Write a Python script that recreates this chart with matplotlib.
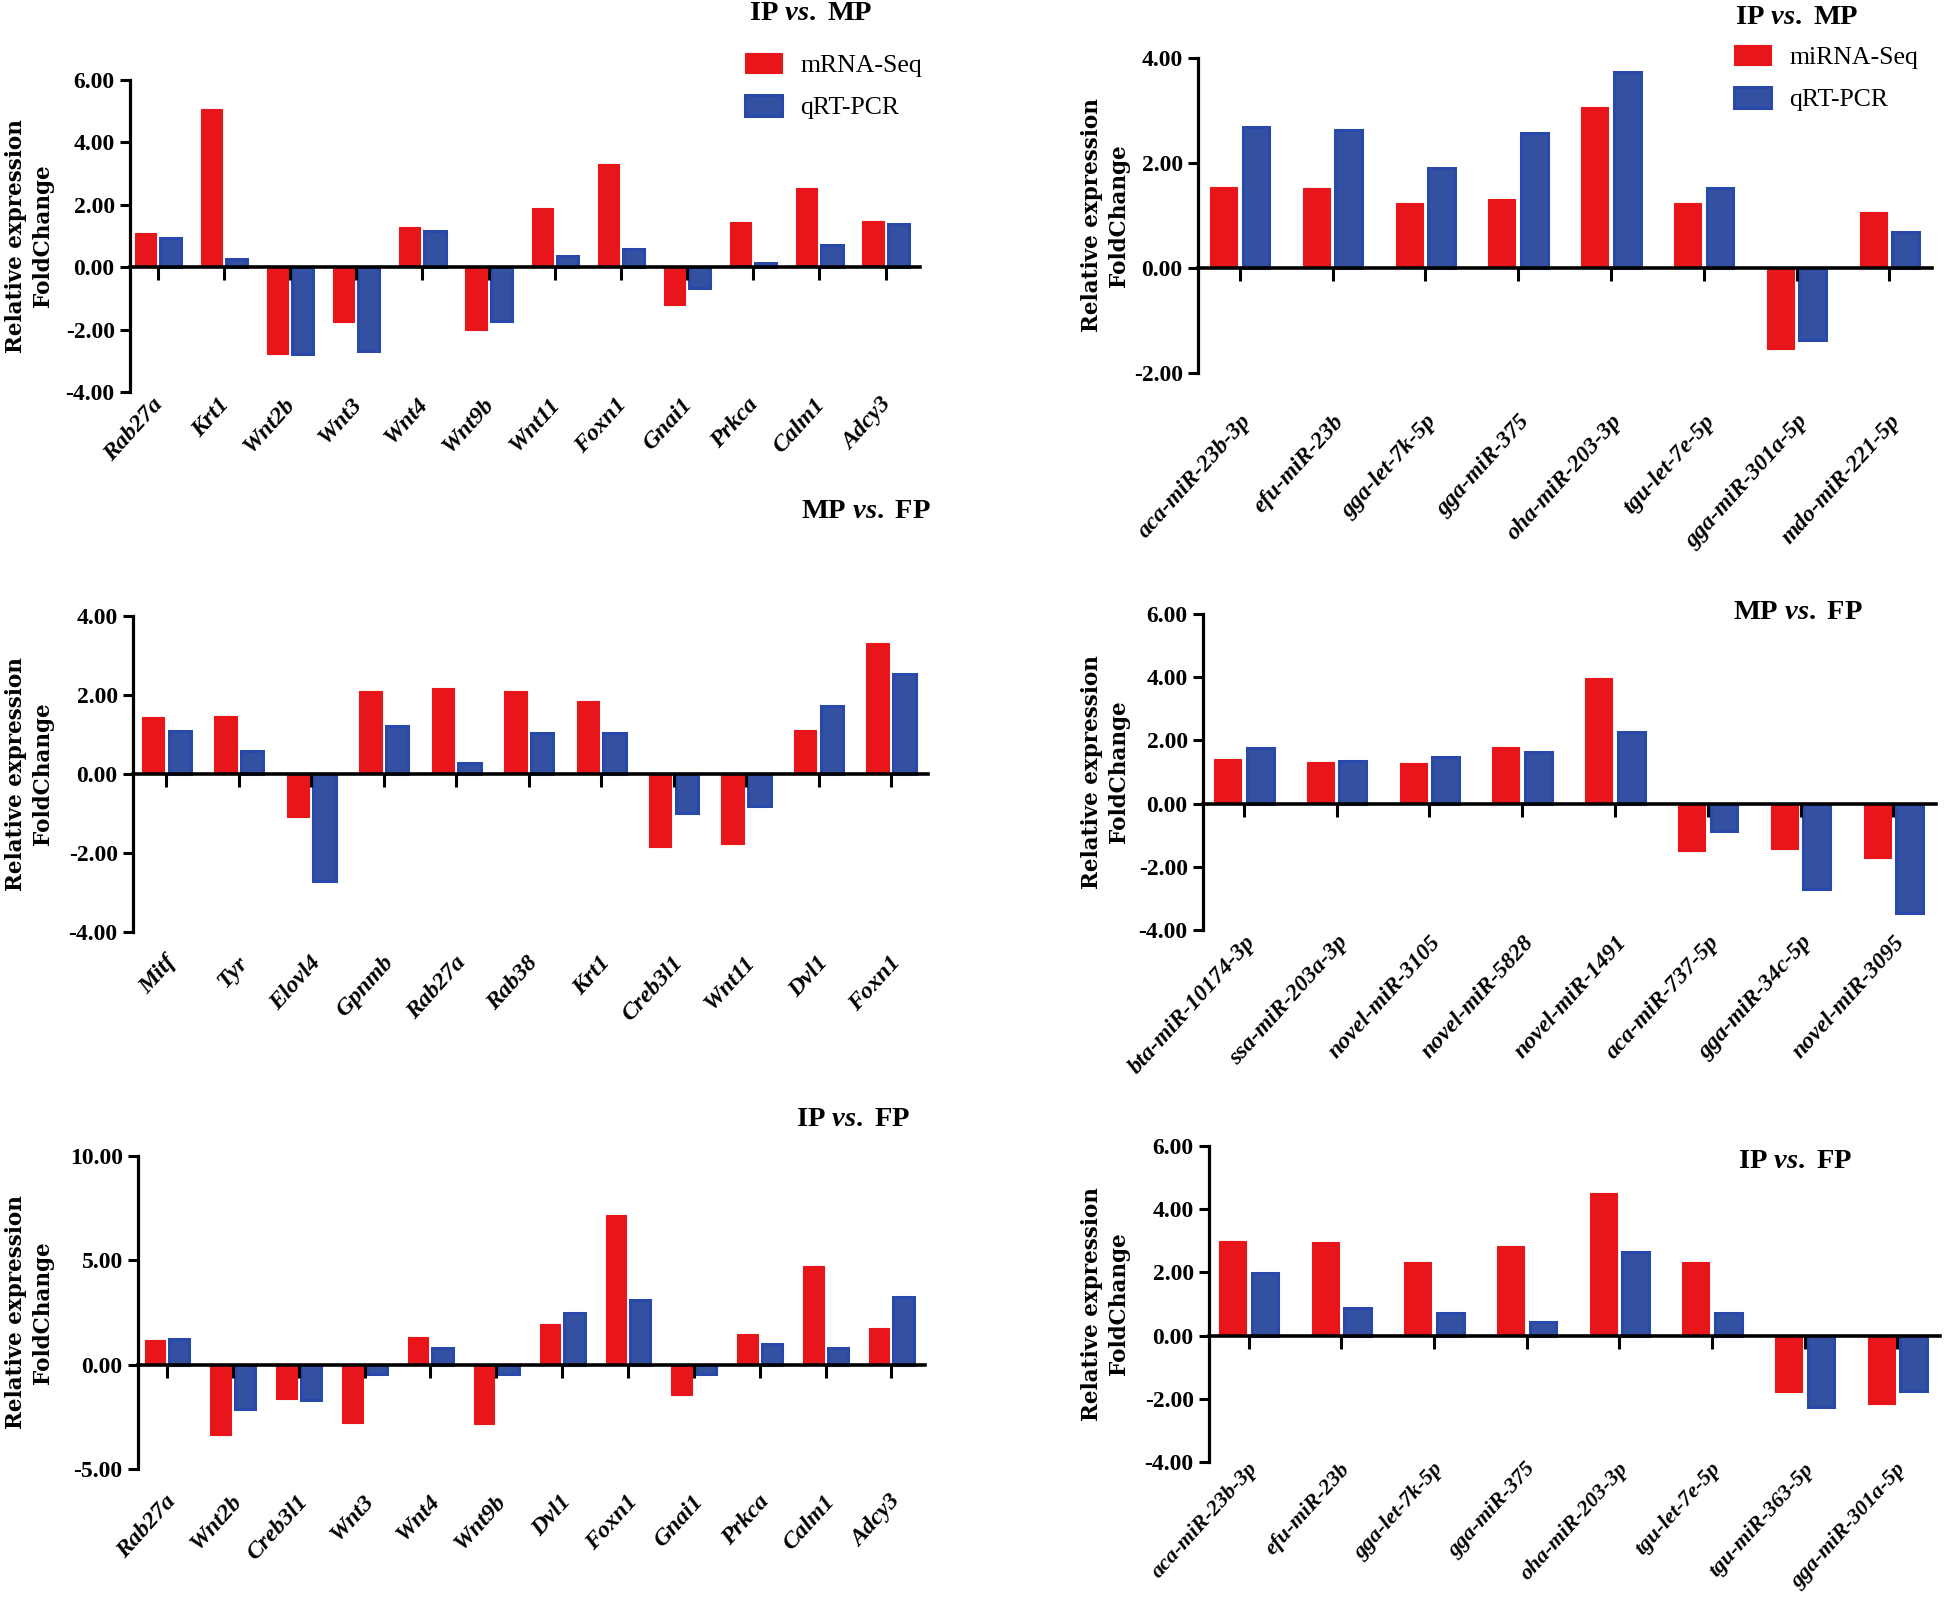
import numpy as np
import matplotlib
matplotlib.use("Agg")
import matplotlib.pyplot as plt
from matplotlib.ticker import FormatStrFormatter, MultipleLocator
from matplotlib.transforms import ScaledTranslation

plt.rcParams['font.family'] = ['Liberation Serif', 'DejaVu Serif']
plt.rcParams['mathtext.fontset'] = 'custom'
plt.rcParams['mathtext.it'] = 'Liberation Serif:italic:bold'
plt.rcParams['mathtext.rm'] = 'Liberation Serif:bold'

RED = '#E8151B'
BLUE = '#3451A1'
BLUE_EDGE = '#2949AA'

W, H = 1944, 1597

# ---- data ----
p1_genes = ['Rab27a', 'Krt1', 'Wnt2b', 'Wnt3', 'Wnt4', 'Wnt9b', 'Wnt11', 'Foxn1', 'Gnai1', 'Prkca', 'Calm1', 'Adcy3']
p1_seq = [1.10, 5.07, -2.77, -1.76, 1.30, -2.02, 1.89, 3.30, -1.22, 1.44, 2.55, 1.47]
p1_pcr = [0.94, 0.25, -2.77, -2.69, 1.17, -1.72, 0.36, 0.59, -0.66, 0.13, 0.71, 1.38]

p2_mirs = ['aca-miR-23b-3p', 'efu-miR-23b', 'gga-let-7k-5p', 'gga-miR-375', 'oha-miR-203-3p',
           'tgu-let-7e-5p', 'gga-miR-301a-5p', 'mdo-miR-221-5p']
p2_seq = [1.55, 1.53, 1.23, 1.32, 3.06, 1.23, -1.55, 1.06]
p2_pcr = [2.68, 2.62, 1.91, 2.58, 3.73, 1.53, -1.38, 0.68]

p3_genes = ['Mitf', 'Tyr', 'Elovl4', 'Gpnmb', 'Rab27a', 'Rab38', 'Krt1', 'Creb3l1', 'Wnt11', 'Dvl1', 'Foxn1']
p3_seq = [1.44, 1.47, -1.09, 2.09, 2.18, 2.09, 1.85, -1.85, -1.78, 1.12, 3.32]
p3_pcr = [1.09, 0.58, -2.72, 1.22, 0.28, 1.05, 1.05, -0.99, -0.80, 1.72, 2.53]

p4_mirs = ['bta-miR-10174-3p', 'ssa-miR-203a-3p', 'novel-miR-3105', 'novel-miR-5828', 'novel-miR-1491',
           'aca-miR-737-5p', 'gga-miR-34c-5p', 'novel-miR-3095']
p4_seq = [1.41, 1.32, 1.28, 1.80, 3.96, -1.49, -1.44, -1.73]
p4_pcr = [1.76, 1.35, 1.47, 1.62, 2.27, -0.86, -2.69, -3.45]

p5_genes = ['Rab27a', 'Wnt2b', 'Creb3l1', 'Wnt3', 'Wnt4', 'Wnt9b', 'Dvl1', 'Foxn1', 'Gnai1', 'Prkca', 'Calm1', 'Adcy3']
p5_seq = [1.17, -3.35, -1.63, -2.80, 1.34, -2.83, 1.95, 7.16, -1.47, 1.47, 4.74, 1.77]
p5_pcr = [1.23, -2.14, -1.68, -0.46, 0.81, -0.43, 2.48, 3.08, -0.46, 1.01, 0.81, 3.24]

p6_mirs = ['aca-miR-23b-3p', 'efu-miR-23b', 'gga-let-7k-5p', 'gga-miR-375', 'oha-miR-203-3p',
           'tgu-let-7e-5p', 'tgu-miR-363-5p', 'gga-miR-301a-5p']
p6_seq = [2.99, 2.97, 2.33, 2.82, 4.50, 2.33, -1.77, -2.18]
p6_pcr = [1.97, 0.88, 0.71, 0.43, 2.64, 0.72, -2.26, -1.74]

###############################


def add_axes_px(fig, left, right, top, bottom):
    return fig.add_axes([left / W, 1 - bottom / H, (right - left) / W, (bottom - top) / H])


def draw_panel(ax, names, seq, pcr, ylim, ystep, xlim, width, gap, label_dx=0, label_size=17.5):
    x = np.arange(len(names))
    off = width / 2 + 0.03
    b1 = ax.bar(x - off, seq, width, color=RED, edgecolor=RED, linewidth=0.8)
    b2 = ax.bar(x + off, pcr, width, color=BLUE, edgecolor=BLUE_EDGE, linewidth=2.2)

    ax.set_xlim(*xlim)
    ax.set_ylim(*ylim)
    ax.yaxis.set_major_locator(MultipleLocator(ystep))
    ax.yaxis.set_major_formatter(FormatStrFormatter('%.2f'))

    for s in ['top', 'right']:
        ax.spines[s].set_visible(False)
    ax.spines['left'].set_linewidth(2.3)
    ax.spines['bottom'].set_linewidth(2.6)
    ax.spines['bottom'].set_position(('data', 0))

    ax.set_xticks(x)
    ax.tick_params(axis='x', direction='out', length=9, width=2.2, labelbottom=False)
    ax.tick_params(axis='y', direction='out', length=7, width=2.2, pad=4, labelsize=17)
    for t in ax.get_yticklabels():
        t.set_fontweight('bold')

    # category labels sit under the bottom of the y range
    tr = ax.transData + ScaledTranslation(label_dx / 100, -gap / 100, ax.figure.dpi_scale_trans)
    for i, n in enumerate(names):
        ax.text(i, ylim[0], n, transform=tr, rotation=48, ha='right', va='top',
                rotation_mode='anchor', fontsize=label_size, fontweight='bold', fontstyle='italic',
                clip_on=False)

    ax.set_ylabel('Relative expression\nFoldChange', fontsize=15.5, fontweight='bold',
                  family='DejaVu Serif', linespacing=1.3)
    return b1, b2


fig = plt.figure(figsize=(W / 100, H / 100), dpi=100)

ax1 = add_axes_px(fig, 130, 920, 80, 392)
b1, b2 = draw_panel(ax1, p1_genes, p1_seq, p1_pcr, (-4, 6), 2, (-0.42, 11.52), 0.32, 2, -6)
ax2 = add_axes_px(fig, 1198, 1932, 58, 373)
c1, c2 = draw_panel(ax2, p2_mirs, p2_seq, p2_pcr, (-2, 4), 2, (-0.45, 7.46), 0.29, 38, 0, 17)
ax3 = add_axes_px(fig, 133, 928, 616, 932)
draw_panel(ax3, p3_genes, p3_seq, p3_pcr, (-4, 4), 2, (-0.46, 10.51), 0.31, 20, -2)
ax4 = add_axes_px(fig, 1203, 1936, 614, 930)
draw_panel(ax4, p4_mirs, p4_seq, p4_pcr, (-4, 6), 2, (-0.44, 7.46), 0.29, 2, 0, 17)
ax5 = add_axes_px(fig, 138, 925, 1156, 1469)
draw_panel(ax5, p5_genes, p5_seq, p5_pcr, (-5, 10), 5, (-0.44, 11.51), 0.31, 22, -2)
ax6 = add_axes_px(fig, 1209, 1940, 1146, 1462)
draw_panel(ax6, p6_mirs, p6_seq, p6_pcr, (-4, 6), 2, (-0.43, 7.46), 0.29, -3, -2, 16)

# y label block: right edge at about x = 54 px (left column) and 1130 px (right column)
for a in [ax1, ax3, ax5]:
    left = a.get_position().x0 * W
    a.yaxis.set_label_coords((54 - left) / (a.get_position().width * W), 0.5)
for a in [ax2, ax4, ax6]:
    left = a.get_position().x0 * W
    a.yaxis.set_label_coords((1130 - left) / (a.get_position().width * W), 0.5)

# titles
titles = [(811, 14, r'IP $\mathit{vs.}$ MP'), (1797, 18, r'IP $\mathit{vs.}$ MP'),
          (866, 511, r'MP $\mathit{vs.}$ FP'), (1798, 613, r'MP $\mathit{vs.}$ FP'),
          (853, 1120, r'IP $\mathit{vs.}$ FP'), (1795, 1162, r'IP $\mathit{vs.}$ FP')]
for tx, ty, s in titles:
    fig.text(tx / W, 1 - ty / H, s, ha='center', va='center', fontsize=20.5, fontweight='bold')

leg_kw = dict(loc='upper left', frameon=False, fontsize=18.5, handlelength=1.45, handleheight=0.85,
              labelspacing=0.7, handletextpad=0.7, borderpad=0, borderaxespad=0)
fig.legend([b1, b2], ['mRNA-Seq', 'qRT-PCR'], bbox_to_anchor=(745 / W, 1 - 53 / H), **leg_kw)
fig.legend([c1, c2], ['miRNA-Seq', 'qRT-PCR'], bbox_to_anchor=(1734 / W, 1 - 45 / H), **leg_kw)

fig.savefig('out.png', dpi=100)
